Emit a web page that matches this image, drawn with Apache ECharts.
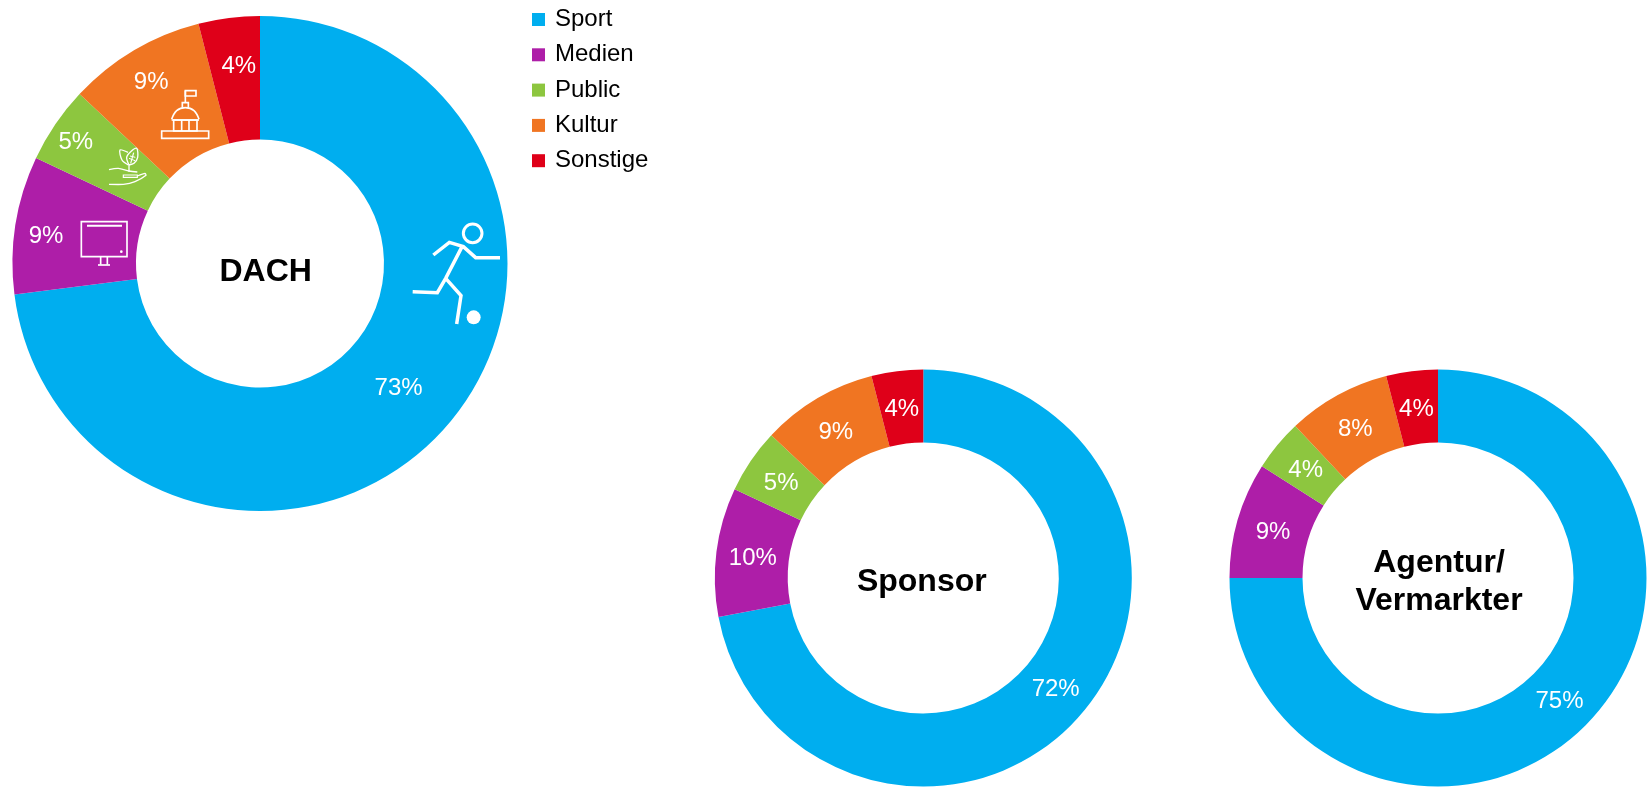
<!DOCTYPE html>
<html>
<head>
<meta charset="utf-8">
<style>html,body{margin:0;padding:0;background:#fff}#c{width:1647px;height:789px}</style>
<script src="https://cdn.jsdelivr.net/npm/echarts@6/dist/echarts.min.js"></script>
</head>
<body>
<div id="c"></div>
<script>
const categories = ['Sport', 'Medien', 'Public', 'Kultur', 'Sonstige'];
const colors = ['#00AEEF', '#AE1EA8', '#8DC63F', '#F07522', '#DF0019'];
const dachValues = [73, 9, 5, 9, 4];
const sponsorValues = [72, 10, 5, 9, 4];
const agenturValues = [75, 9, 4, 8, 4];
const centerTitles = ['DACH', 'Sponsor', 'Agentur/\nVermarkter'];
const dachLabelOffset = [[-3, 0], [-27.6, 2.9], [-28.1, -14.9], [-12.7, -19], [2.5, -9.7]];

const FONT = '"Liberation Sans", Arial, sans-serif';

function pie(name, values, center, radius, offsets) {
  const total = values.reduce((a, b) => a + b, 0);
  let run = 0;
  const mids = values.map(v => { const m = (run + v / 2) / total * 2 * Math.PI; run += v; return m; });
  const off = offsets || mids.map(m => [-3.2 * Math.sin(m), 3.2 * Math.cos(m) + 2]);
  return {
    type: 'pie', name, center, radius, startAngle: 90, clockwise: true,
    silent: true, animation: false, avoidLabelOverlap: false, minShowLabelAngle: 0,
    label: { show: true, position: 'inside', formatter: '{c}%', color: '#fff', fontFamily: FONT, fontSize: 24 },
    labelLine: { show: false },
    labelLayout: p => ({ dx: off[p.dataIndex][0], dy: off[p.dataIndex][1] }),
    data: categories.map((c, i) => ({ name: c, value: values[i], itemStyle: { color: colors[i] } }))
  };
}

const Z = 50;
const W = { stroke: '#fff', fill: 'none' };
function line(pts, lw, smooth) {
  return { type: 'polyline', z: Z, shape: { points: pts, smooth: smooth || 0 }, style: { ...W, lineWidth: lw, lineJoin: 'miter' }, silent: true };
}
function box(x, y, w, h, lw) {
  return { type: 'rect', z: Z, shape: { x, y, width: w, height: h }, style: { ...W, lineWidth: lw }, silent: true };
}

const player = {
  type: 'group', x: 380, y: 190, scaleX: 1 / 3, scaleY: 1 / 3, silent: true, z: Z,
  children: [
    { type: 'circle', z: Z, shape: { cx: 278, cy: 130, r: 28 }, style: { ...W, lineWidth: 9 } },
    { type: 'circle', z: Z, shape: { cx: 281, cy: 382, r: 21 }, style: { fill: '#fff' } },
    line([[160, 195], [208, 157], [250, 170], [287, 203], [360, 203]], 10.5),
    line([[245, 172], [197, 265], [172, 308], [98, 305]], 10.5),
    line([[197, 265], [243, 317], [230, 402]], 10.5)
  ]
};

const icons = {
  type: 'group', x: 60, y: 70, scaleX: 1 / 3, scaleY: 1 / 3, silent: true, z: Z,
  children: [
    // monitor
    box(64, 455, 137, 105, 5),
    line([[81, 467], [186, 467]], 6),
    { type: 'circle', z: Z, shape: { cx: 184, cy: 545, r: 4 }, style: { fill: '#fff' } },
    line([[122, 560], [122, 584]], 5),
    line([[142, 560], [142, 584]], 5),
    line([[114, 585], [150, 585]], 5),
    // plant
    line([[205, 285], [186, 270], [180, 240], [204, 247]], 4, 0.3),
    line([[207, 285], [200, 262], [212, 245], [230, 235], [233, 262], [222, 280], [207, 285]], 4, 0.3),
    line([[207, 285], [207, 305]], 4),
    line([[212, 280], [221, 248]], 3.5),
    line([[207, 265], [225, 272]], 3),
    line([[210, 258], [226, 262]], 3),
    line([[147, 299], [175, 295], [207, 303], [232, 306]], 4, 0.3),
    box(190, 315, 42, 7, 3.5),
    line([[232, 318], [255, 310], [258, 316], [225, 335], [190, 343], [147, 343]], 4, 0.2),
    // capitol
    box(305, 183, 141, 22, 5),
    box(341, 150, 70, 33, 5),
    line([[365, 150], [365, 183]], 5),
    line([[387, 150], [387, 183]], 5),
    line([[335, 150], [417, 150]], 5),
    line([[335, 148], [350, 122], [376, 113], [402, 122], [417, 148]], 5, 0.4),
    line([[367, 113], [367, 98], [385, 98], [385, 113]], 5),
    line([[376, 98], [376, 62]], 5),
    box(376, 62, 32, 16, 5)
  ]
};

const chart = echarts.init(document.getElementById('c'), null, { renderer: 'canvas' });
function title(text, x, y) {
  return { text, left: x, top: y, textAlign: 'center', textVerticalAlign: 'middle',
    textStyle: { fontFamily: FONT, fontSize: 32, fontWeight: 'bold', color: '#000', lineHeight: 38 } };
}
chart.setOption({
  animation: false,
  backgroundColor: '#fff',
  title: [title(centerTitles[0], 260.7, 267), title(centerTitles[1], 916.8, 577), title(centerTitles[2], 1434, 577)],
  legend: {
    orient: 'vertical', left: 532, top: 4, padding: 0, itemWidth: 13, itemHeight: 13, itemGap: 4.3,
    icon: 'rect', selectedMode: false, data: categories,
    textStyle: { fontFamily: FONT, fontSize: 24, color: '#000', padding: [4, 0, 0, 5], lineHeight: 27 }
  },
  series: [
    pie('DACH', dachValues, [260, 263.5], [124, 247.5], dachLabelOffset),
    pie('Sponsor', sponsorValues, [923.3, 578], [135.5, 208.5]),
    pie('Agentur', agenturValues, [1438, 578], [135.5, 208.5])
  ],
  graphic: { elements: [player, icons] }
});
</script>
</body>
</html>
